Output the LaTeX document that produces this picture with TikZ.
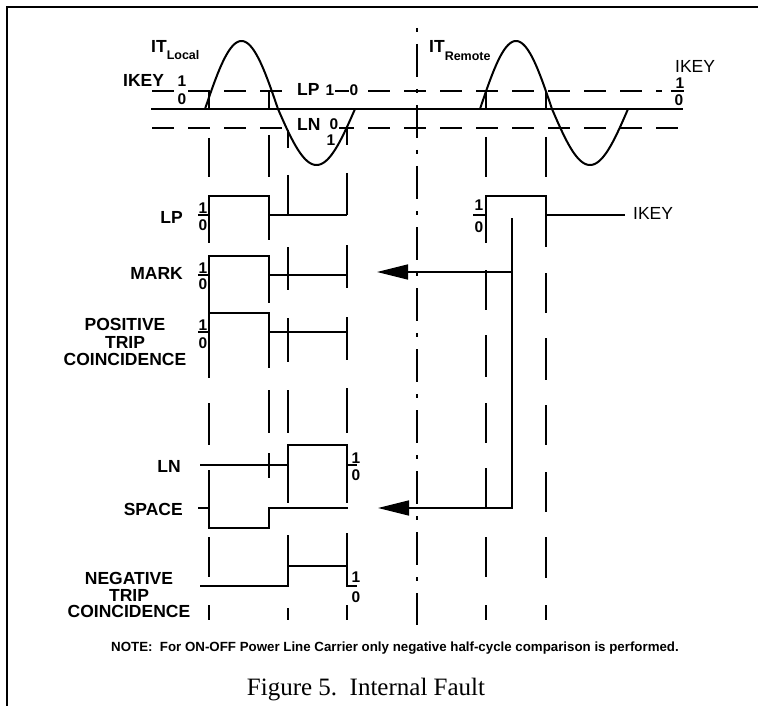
\documentclass[tikz,border=0pt]{standalone}
\usepackage{fontspec}
\setmainfont{Liberation Serif}
\setsansfont{Liberation Sans}
\usetikzlibrary{arrows.meta}
\begin{document}
\begin{tikzpicture}[x=1pt,y=-1pt,
  lbl/.style={font=\sffamily\bfseries\fontsize{17.5}{17.5}\selectfont, inner sep=0pt},
  lblr/.style={font=\sffamily\fontsize{17.5}{17.5}\selectfont, inner sep=0pt},
  dig/.style={font=\sffamily\bfseries\fontsize{15.5}{15.5}\selectfont, inner sep=0pt},
  sig/.style={line width=2pt, line join=miter},
  vd/.style={line width=1.5pt},
  hd/.style={line width=1.5pt, dash pattern=on 22pt off 14pt},
  wave/.style={line width=2pt},
  arr/.style={line width=1.6pt, -{Triangle[length=31pt,width=15pt]}},
  mask/.style={fill=white, inner sep=1pt},
]
\useasboundingbox (0,0) rectangle (758,706);
% frame
\draw[line width=2pt] (758,7) -- (7,7) -- (7,706);

% axis and thresholds
\draw[line width=1.8pt] (151,109) -- (683,109);
\draw[hd] (152,91) -- (662,91);
\draw[line width=1.5pt] (671,91) -- (684,91);
\draw[hd] (152,128) -- (683,128);

% sine waves
\draw[wave] plot[domain=205:278,samples=60,smooth] (\x,{109-68*sin(180*(\x-205)/73)});
\draw[wave] plot[domain=278:355,samples=60,smooth] (\x,{109+56*sin(180*(\x-278)/77)});
\draw[wave] plot[domain=480:552,samples=60,smooth] (\x,{109-68*sin(180*(\x-480)/72)});
\draw[wave] plot[domain=552:628,samples=60,smooth] (\x,{109+56*sin(180*(\x-552)/76)});

% vertical dashed timing lines
\foreach \xx/\ya/\yb in {
  209/91/109, 209/138/177, 209/196/243, 209/256/378, 209/403/445, 209/470/528, 209/537/577, 209/605/620,
  269/91/109, 269/135/177, 269/196/240, 269/256/303, 269/313/368, 269/390/433, 269/453/478, 269/508/528,
  288/130/148, 288/175/215, 288/247/290, 288/318/362, 288/390/433, 288/445/503, 288/535/587, 288/608/620,
  347/127/145, 347/173/215, 347/245/288, 347/317/360, 347/388/433, 347/445/503, 347/533/587, 347/605/620,
  486/91/109, 486/137/177, 486/196/243, 486/270/310, 486/335/377, 486/403/443, 486/468/508, 486/537/577, 486/605/620,
  546/91/109, 546/137/177, 546/195/247, 546/273/313, 546/338/380, 546/405/445, 546/472/512, 546/537/578, 546/605/620}
  \draw[vd] (\xx,\ya) -- (\xx,\yb);

% centre dash-dot line
\draw[line width=1.5pt, dash pattern=on 33pt off 12pt on 4pt off 12pt, dash phase=37pt] (417,20) -- (417,625);

% signals
\draw[sig] (198,215) -- (209,215) -- (209,196) -- (269,196) -- (269,215) -- (347,215);
\draw[sig] (198,275) -- (209,275) -- (209,256) -- (269,256) -- (269,275) -- (347,275);
\draw[sig] (198,332) -- (209,332) -- (209,313) -- (269,313) -- (269,332) -- (347,332);
\draw[sig] (200,465) -- (288,465) -- (288,445) -- (347,445) -- (347,465) -- (357,465);
\draw[sig] (198,508) -- (209,508) -- (209,528) -- (269,528) -- (269,508) -- (348,508);
\draw[sig] (200,586) -- (288,586) -- (288,566) -- (347,566) -- (347,586) -- (357,586);
\draw[sig] (473,215) -- (486,215) -- (486,196) -- (546,196) -- (546,215) -- (625,215);

% remote key connectors
\coordinate (kTop) at (512,218);
\coordinate (kMark) at (512,272);
\coordinate (mTip) at (377,272);
\coordinate (sTip) at (378,508);
\draw[arr] (kTop) |- (sTip);
\draw[arr] (kMark) -- (mTip);

% signal labels
\node[lbl, anchor=base east] (lLP) at (183,223) {LP};
\node[lbl, anchor=base east] (lMARK) at (183,279) {MARK};
\node[lbl, align=center] (lPOS) at (125,342) {POSITIVE\\TRIP\\COINCIDENCE};
\node[lbl, anchor=base east] (lLN) at (181,472) {LN};
\node[lbl, anchor=base east] (lSPACE) at (183,515) {SPACE};
\node[lbl, align=center, font=\sffamily\bfseries\fontsize{17.5}{16.5}\selectfont] (lNEG) at (129,595) {NEGATIVE\\TRIP\\COINCIDENCE};
\node[lblr, anchor=base west] (lIKEY) at (633,219) {IKEY};

% level digits
\node[dig, anchor=base] (a1) at (203,213) {1};
\node[dig, anchor=base] (a0) at (203,230) {0};
\node[dig, anchor=base] (b1) at (203,273) {1};
\node[dig, anchor=base] (b0) at (203,289) {0};
\node[dig, anchor=base] (c1) at (203,330) {1};
\node[dig, anchor=base] (c0) at (203,348) {0};
\node[dig, anchor=base] (e1) at (356,463) {1};
\node[dig, anchor=base] (e0) at (356,480) {0};
\node[dig, anchor=base] (f1) at (356,582) {1};
\node[dig, anchor=base] (f0) at (356,602) {0};
\node[dig, anchor=base] (g1) at (479,210) {1};
\node[dig, anchor=base] (g0) at (479,232) {0};

% top labels
\node[lbl, anchor=base west] (tIKEY) at (123,87) {IKEY};
\node[dig, anchor=base] (t1) at (182,87) {1};
\node[dig, anchor=base] (t0) at (182,105) {0};
\node[lbl, anchor=base west] (tITL) at (151,53) {IT\raisebox{-7pt}{\fontsize{12.5}{12.5}\selectfont Local}};
\node[lbl, mask, anchor=base west] (tLP) at (296,96) {LP};
\node[dig, mask, anchor=base] (tLP1) at (330,96) {1};
\node[dig, mask, anchor=base] (tLP0) at (354,96) {0};
\node[lbl, mask, anchor=base west] (tLN) at (296,131) {LN};
\node[dig, mask, anchor=base] (tLN0) at (334,130) {0};
\node[dig, anchor=base] (tLN1) at (331,146) {1};
\node[lbl, anchor=base west] (tITR) at (429,53) {IT\raisebox{-8pt}{\fontsize{12.5}{12.5}\selectfont Remote}};
\node[lblr, anchor=base west] (tIKEYr) at (675,73) {IKEY};
\node[dig, anchor=base] (r1) at (680,89) {1};
\node[dig, anchor=base] (r0) at (679,106) {0};

% note and caption
\node[font=\sffamily\bfseries\fontsize{13.3}{13.3}\selectfont, anchor=base] (note) at (395,651) {NOTE:\ \ For ON-OFF Power Line Carrier only negative half-cycle comparison is performed.};
\node[font=\fontsize{25}{25}\selectfont, anchor=base] (cap) at (366,695) {Figure 5.\ \ Internal Fault};
\end{tikzpicture}
\end{document}
